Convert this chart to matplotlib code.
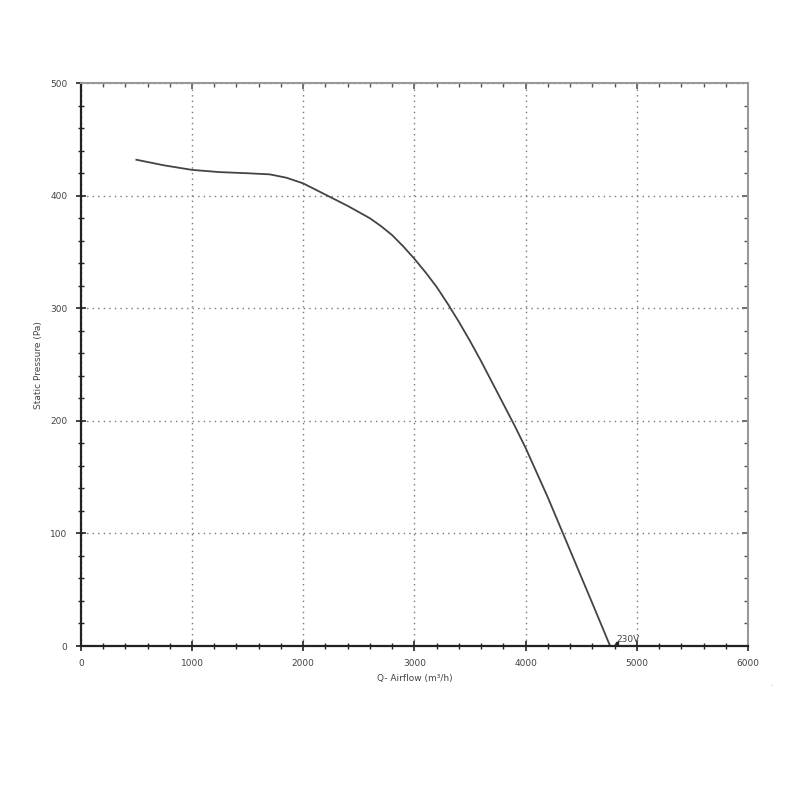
import matplotlib
matplotlib.use("Agg")
import matplotlib.pyplot as plt
from matplotlib.ticker import MultipleLocator, NullFormatter

airflow = [500, 750, 1000, 1250, 1500, 1700, 1850, 2000, 2200, 2400, 2600, 2700, 2800,
           2900, 3000, 3100, 3200, 3300, 3400, 3500, 3600, 3700, 3800, 3900, 4000,
           4100, 4200, 4400, 4600, 4760]
pressure = [432, 427, 423, 421, 420, 419, 416, 411, 401, 391, 380, 373, 365,
            355, 344, 332, 319, 304, 288, 271, 253, 234, 215, 196, 176,
            154, 132, 85, 38, 0]
curve_label = "230V"
x_label = "Q- Airflow (m³/h)"
y_label = "Static Pressure (Pa)"

fig = plt.figure(figsize=(8, 8), dpi=100)
ax = fig.add_axes([0.101, 0.1925, 0.834, 0.7035])
ax.plot(airflow, pressure, color="#444444", lw=1.3, solid_joinstyle="round")
ax.plot([airflow[-1] + 60], [pressure[-1] + 3], marker="s", ms=1.5, color="#222222")
ax.text(airflow[-1] + 60, pressure[-1] + 2, curve_label, fontsize=6.5, color="#444444",
        ha="left", va="bottom")

ax.set_xlim(0, 6000)
ax.set_ylim(0, 500)
ax.xaxis.set_major_locator(MultipleLocator(1000))
ax.xaxis.set_minor_locator(MultipleLocator(200))
ax.yaxis.set_major_locator(MultipleLocator(100))
ax.yaxis.set_minor_locator(MultipleLocator(20))
ax.grid(True, which="major", color="#777777", linestyle=(0, (1, 3)), linewidth=1)
for side in ("top", "right"):
    ax.spines[side].set_linewidth(1.5)
    ax.spines[side].set_color("#999999")
for side in ("left", "bottom"):
    ax.spines[side].set_linewidth(1.6)
    ax.spines[side].set_color("#222222")
ax.tick_params(which="both", direction="inout", color="#222222", labelsize=6.5,
               labelcolor="#444444", top=False, right=False)
ax.tick_params(which="major", length=7, width=1.2, pad=6)
ax.tick_params(which="minor", length=5, width=1.0)

sx = ax.secondary_xaxis("top")
sx.xaxis.set_major_locator(MultipleLocator(1000))
sx.xaxis.set_minor_locator(MultipleLocator(200))
sx.xaxis.set_major_formatter(NullFormatter())
sx.spines["top"].set_visible(False)
sx.tick_params(which="both", direction="in", color="#555555")
sx.tick_params(which="major", length=4, width=1.2)
sx.tick_params(which="minor", length=3, width=1.0)

sy = ax.secondary_yaxis("right")
sy.yaxis.set_major_locator(MultipleLocator(100))
sy.yaxis.set_minor_locator(MultipleLocator(20))
sy.yaxis.set_major_formatter(NullFormatter())
sy.spines["right"].set_visible(False)
sy.tick_params(which="both", direction="in", color="#555555")
sy.tick_params(which="major", length=4, width=1.2)
sy.tick_params(which="minor", length=3, width=1.0)

ax.set_xlabel(x_label, fontsize=6.5, color="#444444", labelpad=4)
ax.set_ylabel(y_label, fontsize=6.5, color="#444444", labelpad=5)

fig.text(0.963, 0.142, ".", fontsize=5, color="#999999")
fig.savefig("out.png", dpi=100, facecolor="white")
